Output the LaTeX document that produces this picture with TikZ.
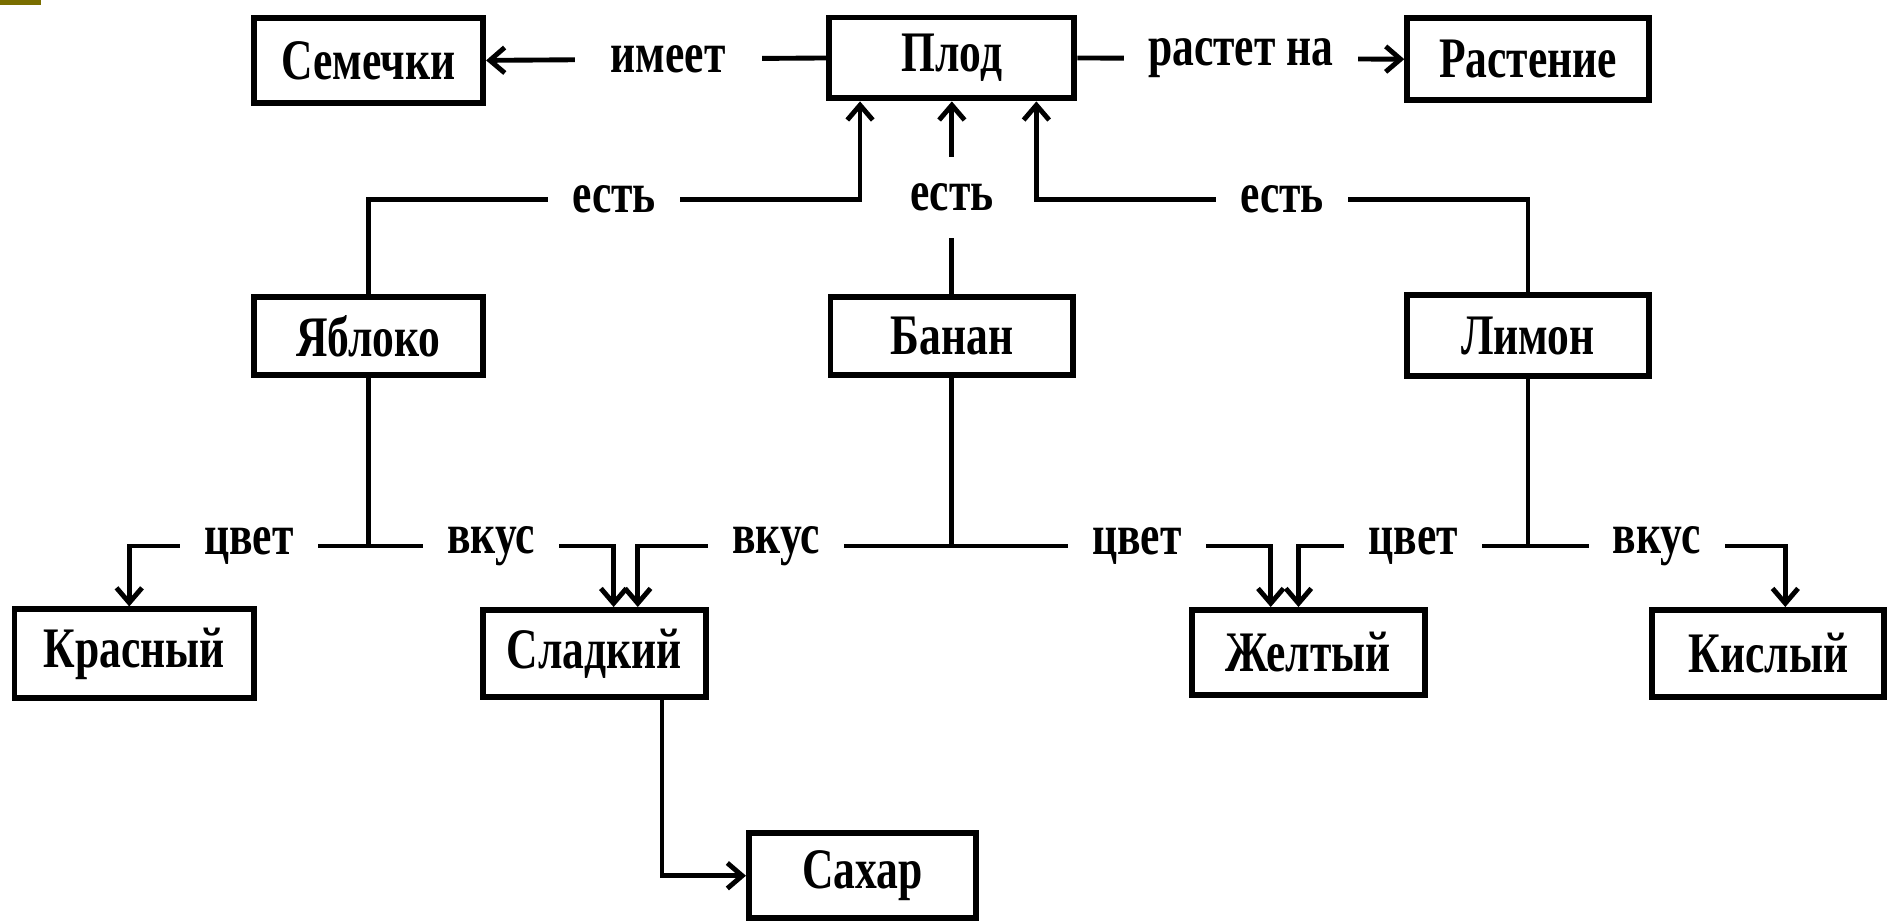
\documentclass[tikz,border=0pt]{standalone}
\usepackage{fontspec}
\setmainfont{Liberation Serif}[FakeStretch=0.76]
\usetikzlibrary{arrows.meta}
\definecolor{olivebar}{RGB}{122,110,0}
\begin{document}
\begin{tikzpicture}[x=0.02cm,y=-0.02cm,
  txt/.style={font=\fontsize{27}{29}\selectfont\bfseries},
  box/.style={txt,draw,line width=2.8pt,inner sep=0pt},
  lbl/.style={txt,fill=white,inner xsep=0.4cm,inner ysep=1pt},
  conn/.style={line width=2.3pt},
  arr/.style={conn,-{Straight Barb[length=7pt,width=12pt]}}]
\useasboundingbox (0,0) rectangle (1568,763);
\fill[olivebar] (0,0) rectangle (34,4);
% boxes
\node[box,minimum width=3.8cm,minimum height=1.4cm] (sem) at (305,50) {Семечки};
\node[box,minimum width=4.06cm,minimum height=1.34cm] (plod) at (788,48) {Плод};
\node[box,minimum width=4.0cm,minimum height=1.36cm] (rast) at (1265,49) {Растение};
\node[box,minimum width=3.8cm,minimum height=1.3cm] (yab) at (305,278) {Яблоко};
\node[box,minimum width=4.02cm,minimum height=1.3cm] (ban) at (788,278) {Банан};
\node[box,minimum width=4.0cm,minimum height=1.34cm] (lim) at (1265,278) {Лимон};
\node[box,minimum width=3.96cm,minimum height=1.46cm] (kras) at (111,541) {Красный};
\node[box,minimum width=3.7cm,minimum height=1.44cm] (slad) at (492,541) {Сладкий};
\node[box,minimum width=3.86cm,minimum height=1.4cm] (zhel) at (1083,540) {Желтый};
\node[box,minimum width=3.84cm,minimum height=1.44cm] (kis) at (1464,541) {Кислый};
\node[box,minimum width=3.76cm,minimum height=1.4cm] (sah) at (714,725) {Сахар};
% helper coordinates
\coordinate (j1) at (712,165);
\coordinate (j2) at (858,165);
\coordinate (k1) at (107,452);
\coordinate (s1) at (508,452);
\coordinate (s2) at (528,452);
\coordinate (z1) at (1052,452);
\coordinate (z2) at (1075,452);
\coordinate (q1) at (1478,452);
\coordinate (c1) at (548,725);
% top connectors
\draw[arr] (plod.west) -- node[lbl,inner xsep=0.6cm,xshift=0.2cm]{имеет} (sem.east);
\draw[arr] (plod.east) -- node[lbl]{растет на} (rast.west);
\draw[arr] (yab.north) |- node[lbl,pos=0.75]{есть} (j1) -- (j1 |- plod.south);
\draw[arr] (ban.north) -- node[lbl,inner ysep=0.45cm]{есть} (plod.south);
\draw[arr] (lim.north) |- node[lbl,pos=0.75]{есть} (j2) -- (j2 |- plod.south);
% bottom connectors
\draw[arr] (yab.south) |- node[lbl,pos=0.75]{цвет} (k1) -- (k1 |- kras.north);
\draw[arr] (yab.south) |- node[lbl,pos=0.75]{вкус} (s1) -- (s1 |- slad.north);
\draw[arr] (ban.south) |- node[lbl,pos=0.78]{вкус} (s2) -- (s2 |- slad.north);
\draw[arr] (ban.south) |- node[lbl,pos=0.79]{цвет} (z1) -- (z1 |- zhel.north);
\draw[arr] (lim.south) |- node[lbl,pos=0.75]{цвет} (z2) -- (z2 |- zhel.north);
\draw[arr] (lim.south) |- node[lbl,pos=0.75]{вкус} (q1) -- (q1 |- kis.north);
\draw[arr] (c1 |- slad.south) |- (sah.west);
\end{tikzpicture}
\end{document}
